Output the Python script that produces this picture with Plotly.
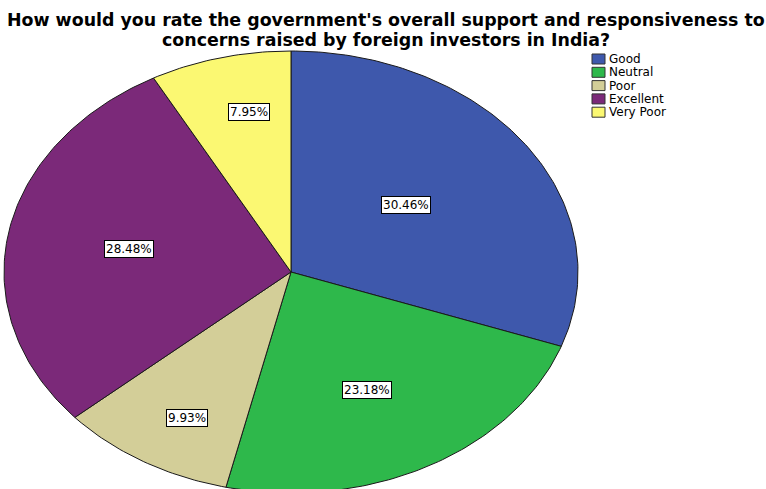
import numpy as np
import plotly.graph_objects as go

# ---- data ----
categories = ["Good", "Neutral", "Poor", "Excellent", "Very Poor"]
percentages = [30.46, 23.18, 9.93, 28.48, 7.95]
title_lines = ["How would you rate the government's overall support and responsiveness to",
               "concerns raised by foreign investors in India?"]

# ---- style ----
colors = ["#3E58AC", "#2EB84B", "#D3CE98", "#7B2979", "#FBF872"]
label_pos = [(0.401, 0.301), (0.265, -0.532), (-0.361, -0.661), (-0.563, 0.104), (-0.146, 0.722)]
FONT = "DejaVu Sans, Verdana, sans-serif"

W, H = 766, 489
cx, cy = 291, 272        # pie centre in pixels
rx, ry = 287, 221        # ellipse radii in pixels
x_range = [-cx / rx, (W - cx) / rx]
y_range = [(cy - H) / ry, cy / ry]

fig = go.Figure()

total = sum(percentages)
start = 0.0
for cat, val, col in zip(categories, percentages, colors):
    a0 = start / total * 2 * np.pi
    a1 = (start + val) / total * 2 * np.pi
    t = np.linspace(a0, a1, max(int(val * 4), 20))
    xs = np.concatenate([[0], np.sin(t), [0]])
    ys = np.concatenate([[0], np.cos(t), [0]])
    fig.add_trace(go.Scatter(
        x=xs, y=ys, mode="lines", fill="toself", fillcolor=col,
        line=dict(color="#1a1a1a", width=1), name=cat,
        hoverinfo="text", text=f"{cat}: {val:.2f}%", showlegend=False))
    start += val

# slice labels
for val, (lx, ly) in zip(percentages, label_pos):
    fig.add_annotation(x=lx, y=ly, xref="x", yref="y", text=f"{val:.2f}%",
                       showarrow=False, font=dict(family=FONT, size=12, color="black"),
                       bgcolor="white", bordercolor="black", borderwidth=1, borderpad=1)

# title (two lines)
for i, line in enumerate(title_lines):
    fig.add_annotation(x=386 / W, y=1 - (20 + 20 * i) / H, xref="paper", yref="paper",
                       xanchor="center", yanchor="middle", text="<b>" + line + "</b>",
                       showarrow=False, align="center", borderpad=0,
                       font=dict(family=FONT, size=17.4, color="black"))

# manual legend
leg_x0, leg_y0, leg_dy = 592, 59, 13.3
for i, (cat, col) in enumerate(zip(categories, colors)):
    yc = leg_y0 + i * leg_dy
    fig.add_shape(type="rect", xref="paper", yref="paper",
                  x0=leg_x0 / W, x1=(leg_x0 + 13) / W,
                  y0=1 - (yc - 5) / H, y1=1 - (yc + 5) / H,
                  fillcolor=col, line=dict(color="#333333", width=1))
    fig.add_annotation(x=(leg_x0 + 16) / W, y=1 - yc / H, xref="paper", yref="paper",
                       xanchor="left", yanchor="middle", text=cat, showarrow=False,
                       borderpad=0,
                       font=dict(family=FONT, size=12, color="black"))

fig.update_layout(
    width=W, height=H, margin=dict(l=0, r=0, t=0, b=0),
    paper_bgcolor="white", plot_bgcolor="white",
    xaxis=dict(range=x_range, visible=False, fixedrange=True),
    yaxis=dict(range=y_range, visible=False, fixedrange=True),
    showlegend=False,
)

fig.write_html("out.html")
